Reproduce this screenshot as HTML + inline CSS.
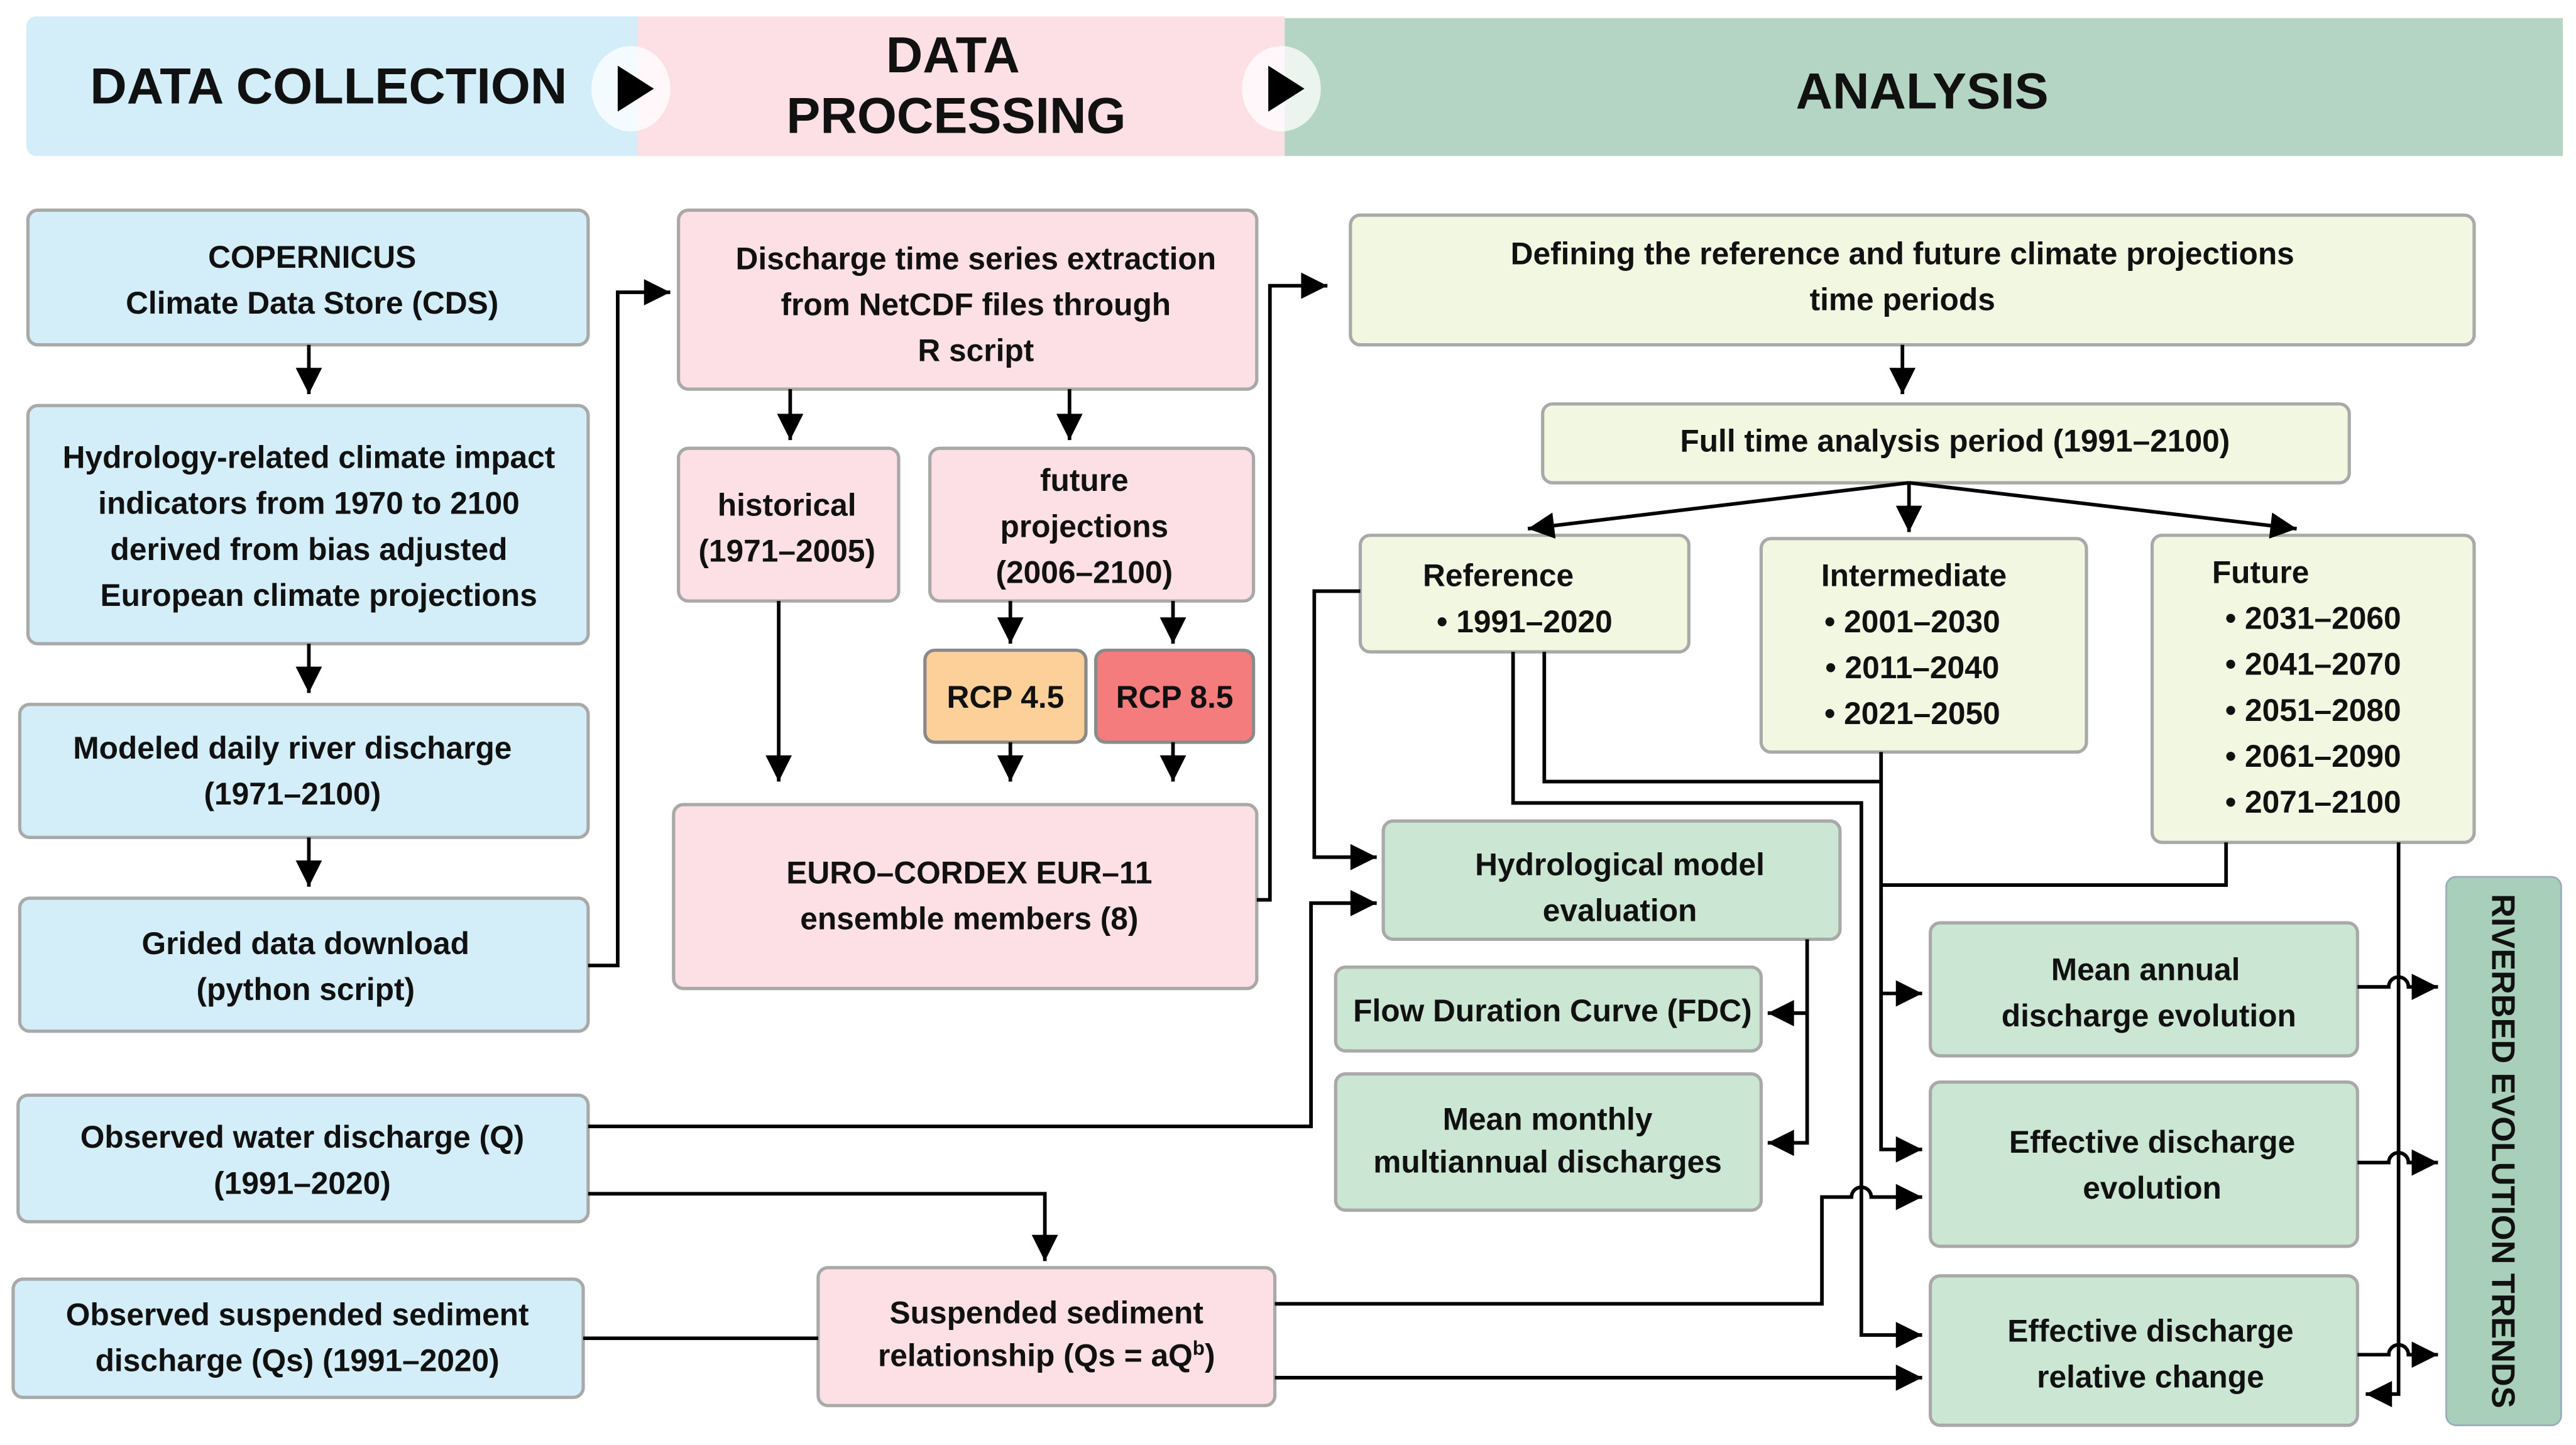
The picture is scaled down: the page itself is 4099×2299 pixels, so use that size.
<!DOCTYPE html>
<html><head><meta charset="utf-8"><style>
html,body{margin:0;padding:0;background:#fff;}
svg{display:block;}
text{font-family:"Liberation Sans",sans-serif;font-weight:bold;fill:#111;text-anchor:middle;}
.t{font-size:19px;}
.h{font-size:31px;}
.b{stroke:#a9a9a9;stroke-width:2;}
.c{fill:#d3eef9;}
.p{fill:#fde0e6;}
.y{fill:#f2f7e2;}
.g{fill:#cbe7d4;}
.l{fill:none;stroke:#000;stroke-width:2.2;}
</style></head><body>
<svg width="4099" height="2299" viewBox="0 0 1568 880" preserveAspectRatio="none" xmlns="http://www.w3.org/2000/svg">
<defs><marker id="a" markerWidth="8" markerHeight="8" refX="7" refY="4" orient="auto" markerUnits="userSpaceOnUse" viewBox="0 0 8 8"><path d="M0,0 L8,4 L0,8z" fill="#000"/></marker>
<marker id="A" viewBox="0 0 10 10" refX="10" refY="5" markerWidth="18" markerHeight="16" orient="auto" markerUnits="userSpaceOnUse"><path d="M0,0 L10,5 L0,10z" fill="#000"/></marker></defs>
<!-- header -->
<rect x="16" y="10" width="380" height="85" rx="6" fill="#d3eef9"/>
<rect x="388" y="10" width="394" height="85" fill="#fde0e6"/>
<rect x="782" y="11" width="778" height="84" fill="#b4d4c4"/>
<text class="h" x="200" y="63">DATA COLLECTION</text>
<text class="h" x="580" y="44">DATA</text>
<text class="h" x="582" y="81">PROCESSING</text>
<text class="h" x="1170" y="66">ANALYSIS</text>
<ellipse cx="384" cy="54" rx="24" ry="26" fill="#fff" opacity="0.75"/>
<path d="M376,40 L398,54 L376,68z" fill="#000"/>
<ellipse cx="780" cy="54" rx="24" ry="26" fill="#fff" opacity="0.75"/>
<path d="M772,40 L794,54 L772,68z" fill="#000"/>
<!-- blue boxes -->
<rect class="b c" x="17" y="128" width="341" height="82" rx="6"/>
<text class="t" x="190" y="163">COPERNICUS</text><text class="t" x="190" y="191">Climate Data Store (CDS)</text>
<rect class="b c" x="17" y="247" width="341" height="145" rx="6"/>
<text class="t" x="188" y="285">Hydrology-related climate impact</text><text class="t" x="188" y="313">indicators from 1970 to 2100</text><text class="t" x="188" y="341">derived from bias adjusted</text><text class="t" x="194" y="369">European climate projections</text>
<rect class="b c" x="12" y="429" width="346" height="81" rx="6"/>
<text class="t" x="178" y="462">Modeled daily river discharge</text><text class="t" x="178" y="490">(1971–2100)</text>
<rect class="b c" x="12" y="547" width="346" height="81" rx="6"/>
<text class="t" x="186" y="581">Grided data download</text><text class="t" x="186" y="609">(python script)</text>
<rect class="b c" x="11" y="667" width="347" height="77" rx="6"/>
<text class="t" x="184" y="699">Observed water discharge (Q)</text><text class="t" x="184" y="727">(1991–2020)</text>
<rect class="b c" x="8" y="779" width="347" height="72" rx="6"/>
<text class="t" x="181" y="807">Observed suspended sediment</text><text class="t" x="181" y="835">discharge (Qs) (1991–2020)</text>
<!-- pink -->
<rect class="b p" x="413" y="128" width="352" height="109" rx="6"/>
<text class="t" x="594" y="164">Discharge time series extraction</text><text class="t" x="594" y="192">from NetCDF files through</text><text class="t" x="594" y="220">R script</text>
<rect class="b p" x="413" y="273" width="134" height="93" rx="6"/>
<text class="t" x="479" y="314">historical</text><text class="t" x="479" y="342">(1971–2005)</text>
<rect class="b p" x="566" y="273" width="197" height="93" rx="6"/>
<text class="t" x="660" y="299">future</text><text class="t" x="660" y="327">projections</text><text class="t" x="660" y="355">(2006–2100)</text>
<rect x="563" y="396" width="98" height="56" rx="6" fill="#fdd09a" stroke="#8a8a8a" stroke-width="2"/>
<text class="t" x="612" y="431">RCP 4.5</text>
<rect x="667" y="396" width="96" height="56" rx="6" fill="#f47c7c" stroke="#8a8a8a" stroke-width="2"/>
<text class="t" x="715" y="431">RCP 8.5</text>
<rect class="b p" x="410" y="490" width="355" height="112" rx="6"/>
<text class="t" x="590" y="538">EURO–CORDEX EUR–11</text><text class="t" x="590" y="566">ensemble members (8)</text>
<rect class="b p" x="498" y="772" width="278" height="84" rx="6"/>
<text class="t" x="637" y="806">Suspended sediment</text><text class="t" x="637" y="832">relationship (Qs = aQ<tspan font-size="12" dy="-7">b</tspan><tspan dy="7">)</tspan></text>
<!-- yellow -->
<rect class="b y" x="822" y="131" width="684" height="79" rx="6"/>
<text class="t" x="1158" y="161">Defining the reference and future climate projections</text><text class="t" x="1158" y="189">time periods</text>
<rect class="b y" x="939" y="246" width="491" height="48" rx="6"/>
<text class="t" x="1190" y="275">Full time analysis period (1991–2100)</text>
<rect class="b y" x="828" y="326" width="200" height="71" rx="6"/>
<text class="t" x="912" y="357">Reference</text><text class="t" x="928" y="385">•  1991–2020</text>
<rect class="b y" x="1072" y="328" width="198" height="130" rx="6"/>
<text class="t" x="1165" y="357">Intermediate</text><text class="t" x="1164" y="385">• 2001–2030</text><text class="t" x="1164" y="413">• 2011–2040</text><text class="t" x="1164" y="441">• 2021–2050</text>
<rect class="b y" x="1310" y="326" width="196" height="187" rx="6"/>
<text class="t" x="1376" y="355">Future</text><text class="t" x="1408" y="383">• 2031–2060</text><text class="t" x="1408" y="411">• 2041–2070</text><text class="t" x="1408" y="439">• 2051–2080</text><text class="t" x="1408" y="467">• 2061–2090</text><text class="t" x="1408" y="495">• 2071–2100</text>
<!-- green -->
<rect class="b g" x="842" y="500" width="278" height="72" rx="6"/>
<text class="t" x="986" y="533">Hydrological model</text><text class="t" x="986" y="561">evaluation</text>
<rect class="b g" x="813" y="589" width="259" height="51" rx="6"/>
<text class="t" x="945" y="622">Flow Duration Curve (FDC)</text>
<rect class="b g" x="813" y="654" width="259" height="83" rx="6"/>
<text class="t" x="942" y="688">Mean monthly</text><text class="t" x="942" y="714">multiannual discharges</text>
<rect class="b g" x="1175" y="562" width="260" height="81" rx="6"/>
<text class="t" x="1306" y="597">Mean annual</text><text class="t" x="1308" y="625">discharge evolution</text>
<rect class="b g" x="1175" y="659" width="260" height="100" rx="6"/>
<text class="t" x="1310" y="702">Effective discharge</text><text class="t" x="1310" y="730">evolution</text>
<rect class="b g" x="1175" y="777" width="260" height="91" rx="6"/>
<text class="t" x="1309" y="817">Effective discharge</text><text class="t" x="1309" y="845">relative change</text>
<rect x="1489" y="534" width="70" height="334" rx="6" fill="#a7cfb9" stroke="#9ab" stroke-width="1"/>
<text x="1524" y="701" font-size="20" transform="rotate(90 1524 701)" dy="7">RIVERBED EVOLUTION TRENDS</text>
<!-- connectors -->
<g class="l">
<path d="M188,210 V240" marker-end="url(#A)"/>
<path d="M188,392 V422" marker-end="url(#A)"/>
<path d="M188,510 V540" marker-end="url(#A)"/>
<path d="M358,588 H376 V178 H408" marker-end="url(#A)"/>
<path d="M481,237 V268" marker-end="url(#A)"/>
<path d="M651,237 V268" marker-end="url(#A)"/>
<path d="M615,366 V392" marker-end="url(#A)"/>
<path d="M714,366 V392" marker-end="url(#A)"/>
<path d="M474,366 V476" marker-end="url(#A)"/>
<path d="M615,452 V476" marker-end="url(#A)"/>
<path d="M714,452 V476" marker-end="url(#A)"/>
<path d="M765,548 H773 V174 H808" marker-end="url(#A)"/>
<path d="M1158,210 V240" marker-end="url(#A)"/>
<path d="M1162,294 L930,322" marker-end="url(#A)"/>
<path d="M1162,294 V324" marker-end="url(#A)"/>
<path d="M1162,294 L1398,322" marker-end="url(#A)"/>
<path d="M828,360 H800 V522 H838" marker-end="url(#A)"/>
<path d="M358,686 H798 V550 H838" marker-end="url(#A)"/>
<path d="M1100,572 V696 H1076" marker-end="url(#A)"/>
<path d="M1100,617 H1076" marker-end="url(#A)"/>
<path d="M358,727 H636 V768" marker-end="url(#A)"/>
<path d="M355,815 H498"/>
<path d="M921,397 V489 H1133 V813 H1170" marker-end="url(#A)"/>
<path d="M940,397 V476 H1145"/>
<path d="M1145,458 V700 H1170" marker-end="url(#A)"/>
<path d="M1145,605 H1170" marker-end="url(#A)"/>
<path d="M1355,513 V539 H1145"/>
<path d="M776,794 H1109 V729 H1127 a6,6 0 0 1 12,0 H1170" marker-end="url(#A)"/>
<path d="M776,839 H1170" marker-end="url(#A)"/>
<path d="M1460,513 V849 H1440" marker-end="url(#A)"/>
<path d="M1435,601 H1454 a6,6 0 0 1 12,0 H1484" marker-end="url(#A)"/>
<path d="M1435,708 H1454 a6,6 0 0 1 12,0 H1484" marker-end="url(#A)"/>
<path d="M1435,825 H1454 a6,6 0 0 1 12,0 H1484" marker-end="url(#A)"/>
</g>
</svg>
</body></html>
